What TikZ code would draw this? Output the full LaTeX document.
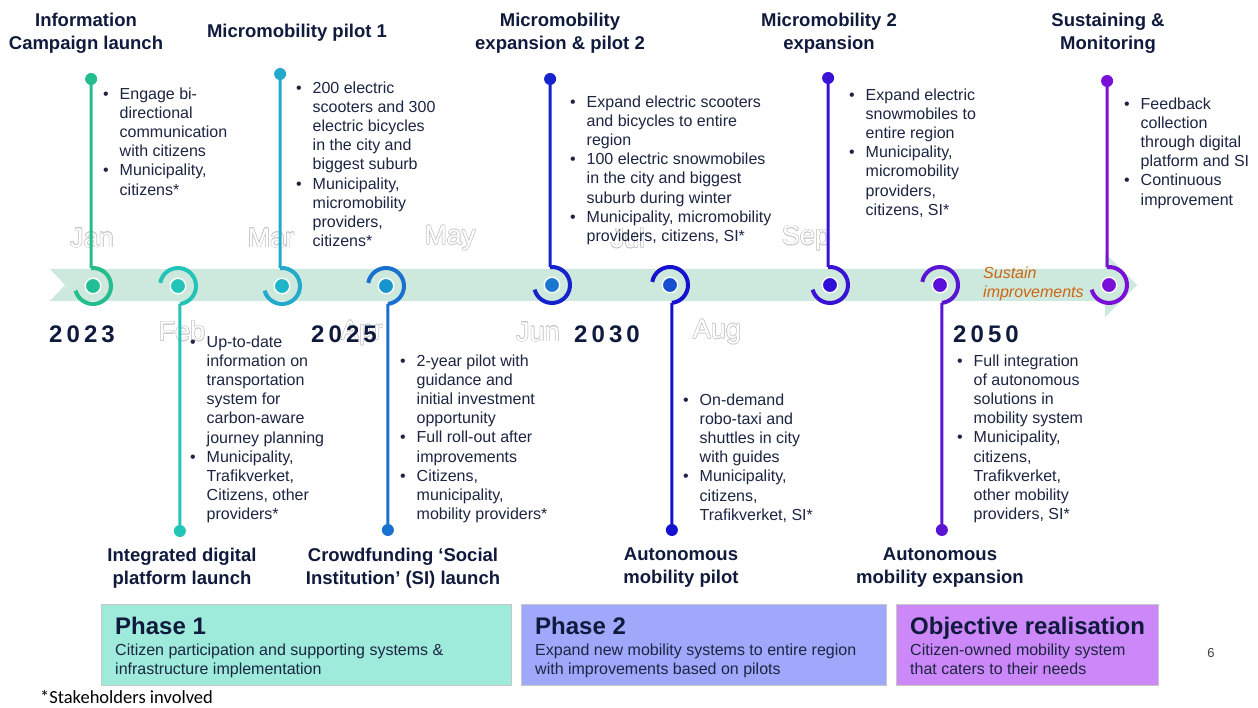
\documentclass[tikz,border=0pt]{standalone}
\usepackage{fontspec}
\setmainfont{Liberation Sans}
\newfontfamily\calib{Carlito}
\newfontfamily\yearfont[LetterSpace=17]{Liberation Sans}
\usetikzlibrary{calc}
\definecolor{navy}{HTML}{101A3C}
\definecolor{txt}{HTML}{1C2542}
\definecolor{bandc}{HTML}{CDE8DD}
\definecolor{mgray}{HTML}{C8C8C8}
\definecolor{sust}{HTML}{D0650F}
\definecolor{a1}{HTML}{25BC8E}\definecolor{b1}{HTML}{22BF94}
\definecolor{a2}{HTML}{22C4B8}\definecolor{b2}{HTML}{22C4B8}
\definecolor{a3}{HTML}{22A9CB}\definecolor{b3}{HTML}{1DB5C8}
\definecolor{a4}{HTML}{1A70CE}\definecolor{b4}{HTML}{1895CF}
\definecolor{a5}{HTML}{1423CC}\definecolor{b5}{HTML}{1A78D2}
\definecolor{a6}{HTML}{1412D0}\definecolor{b6}{HTML}{1450D0}
\definecolor{a7}{HTML}{3A12D5}\definecolor{b7}{HTML}{3010D8}
\definecolor{a8}{HTML}{5A14D4}\definecolor{b8}{HTML}{5A10D8}
\definecolor{a9}{HTML}{7A10D8}\definecolor{b9}{HTML}{7A10D8}
\definecolor{ph1}{HTML}{9EEBDB}
\definecolor{ph2}{HTML}{A0A8FB}
\definecolor{ph3}{HTML}{CC88F8}
\newcommand\bl{\makebox[16.5pt][l]{\textbullet}}
\newcommand\ind{\hspace*{16.5pt}}
\tikzset{
  title/.style={font=\fontsize{18.5}{23}\selectfont\bfseries, text=navy, align=center, inner sep=0pt, anchor=north},
  body/.style={font=\fontsize{16}{19.2}\selectfont, text=txt, align=left, inner sep=0pt, anchor=north west},
  cdot/.style={circle, fill=#1, draw=white, line width=1.4pt, minimum size=15.5pt, inner sep=0pt},
  edot/.style={circle, fill=#1, minimum size=12pt, inner sep=0pt},
  arcline/.style={line width=4pt, draw=#1},
  pinline/.style={line width=3pt, draw=#1},
  month/.style={font=\fontsize{27}{27}\selectfont, inner sep=0pt},
  yearlbl/.style={font=\yearfont\bfseries\fontsize{24}{24}\selectfont, text=navy, inner sep=0pt, anchor=west},
  phasebox/.style={draw=black!22, line width=0.8pt, inner sep=0pt, anchor=north west},
  phtitle/.style={font=\fontsize{24}{24}\selectfont\bfseries, text=navy, inner sep=0pt, anchor=north west},
  phsub/.style={font=\fontsize{16}{19.2}\selectfont, text=txt, align=left, inner sep=0pt, anchor=north west}
}
\newcommand\monthlbl[4]{%
  \foreach \a in {0,30,...,330}{\node[month,text=mgray] at ([shift={(\a:0.55pt)}]#2,#3) {#4};}
  \node[month,text=white] (#1) at (#2,#3) {#4};}
\newcommand\toppin[6]{%
  \coordinate (#1c) at (#2,#3);
  \coordinate (#1s) at ($(#1c)+(96:18pt)$);
  \pgfmathsetmacro\px{#2-1.88}
  \node[edot=#5] (#1e) at (\px,#4) {};
  \draw[pinline=#5] (#1e.center) -- (#1s);
  \draw[arcline=#5] (#1s) arc[start angle=96,end angle=-165,radius=18pt];
  \node[cdot=#6] (#1d) at (#1c) {};}
\newcommand\botpin[6]{%
  \coordinate (#1c) at (#2,#3);
  \coordinate (#1s) at ($(#1c)+(-84:18pt)$);
  \coordinate (#1a) at ($(#1c)+(170:18pt)$);
  \pgfmathsetmacro\px{#2+1.88}
  \node[edot=#5] (#1e) at (\px,#4) {};
  \draw[arcline=#5] (#1a) arc[start angle=170,end angle=-84,radius=18pt];
  \draw[pinline=#5] (#1s) -- (#1e.center);
  \node[cdot=#6] (#1d) at (#1c) {};}
\begin{document}
\begin{tikzpicture}[x=1pt,y=1pt]
\useasboundingbox (0,0) rectangle (1258,-708);
\fill[white] (0,0) rectangle (1258,-708);
% band
\fill[bandc] (50,-269) -- (1105,-269) -- (1105,-253) -- (1137,-285) -- (1105,-317) -- (1105,-301) -- (50,-301) -- (65,-285) -- cycle;
% months
\monthlbl{mjan}{92}{-238}{Jan}
\monthlbl{mfeb}{182}{-331}{Feb}
\monthlbl{mmar}{271}{-238}{Mar}
\monthlbl{mapr}{362}{-333}{Apr}
\monthlbl{mmay}{450}{-238}{May}
\monthlbl{mjun}{538}{-332}{Jun}
\monthlbl{mjul}{628}{-238}{Jul}
\monthlbl{maug}{717}{-332}{Aug}
\monthlbl{msep}{806}{-238}{Sep}
% pins
\toppin{p1}{93}{-286}{-79}{a1}{b1}
\botpin{p2}{178}{-286}{-531}{a2}{b2}
\toppin{p3}{282}{-286}{-74}{a3}{b3}
\botpin{p4}{386}{-286}{-530}{a4}{b4}
\toppin{p5}{552}{-285}{-79}{a5}{b5}
\botpin{p6}{670}{-285}{-530}{a6}{b6}
\toppin{p7}{830}{-285}{-78}{a7}{b7}
\botpin{p8}{940}{-285}{-530}{a8}{b8}
\toppin{p9}{1109}{-285}{-81}{a9}{b9}
% years
\node[yearlbl] (y1) at (49,-334) {2023};
\node[yearlbl] (y2) at (311,-334) {2025};
\node[yearlbl] (y3) at (574,-334) {2030};
\node[yearlbl] (y4) at (953,-334) {2050};
% sustain
\node[anchor=north west, inner sep=0pt, align=left, font=\fontsize{16}{19}\selectfont\itshape, text=sust] (sus) at (983,-267) {Sustain\\improvements};
% titles
\node[title] (t1) at (86,-12.5) {Information\\Campaign launch};
\node[title] (t3) at (297,-23.5) {Micromobility pilot 1};
\node[title] (t5) at (560,-12.5) {Micromobility\\expansion \& pilot 2};
\node[title] (t7) at (829,-12.5) {Micromobility 2\\expansion};
\node[title] (t9) at (1108,-12.5) {Sustaining \&\\Monitoring};
\node[title] (t2) at (182,-547.5) {Integrated digital\\platform launch};
\node[title] (t4) at (403,-547.5) {Crowdfunding ‘Social\\Institution’ (SI) launch};
\node[title] (t6) at (681,-547.5) {Autonomous\\mobility pilot};
\node[title] (t8) at (940,-547.5) {Autonomous\\mobility expansion};
% bodies
\node[body] (x1) at (103,-87.4) {\bl Engage bi-\\\ind directional\\\ind communication\\\ind with citizens\\\bl Municipality,\\\ind citizens*};
\node[body] (x2) at (190,-335.4) {\bl Up-to-date\\\ind information on\\\ind transportation\\\ind system for\\\ind carbon-aware\\\ind journey planning\\\bl Municipality,\\\ind Trafikverket,\\\ind Citizens, other\\\ind providers*};
\node[body] (x3) at (296,-81.4) {\bl 200 electric\\\ind scooters and 300\\\ind electric bicycles\\\ind in the city and\\\ind biggest suburb\\\bl Municipality,\\\ind micromobility\\\ind providers,\\\ind citizens*};
\node[body] (x4) at (400,-354.4) {\bl 2-year pilot with\\\ind guidance and\\\ind initial investment\\\ind opportunity\\\bl Full roll-out after\\\ind improvements\\\bl Citizens,\\\ind municipality,\\\ind mobility providers*};
\node[body] (x5) at (570,-95.4) {\bl Expand electric scooters\\\ind and bicycles to entire\\\ind region\\\bl 100 electric snowmobiles\\\ind in the city and biggest\\\ind suburb during winter\\\bl Municipality, micromobility\\\ind providers, citizens, SI*};
\node[body] (x6) at (683,-393.4) {\bl On-demand\\\ind robo-taxi and\\\ind shuttles in city\\\ind with guides\\\bl Municipality,\\\ind citizens,\\\ind Trafikverket, SI*};
\node[body] (x7) at (849,-88.4) {\bl Expand electric\\\ind snowmobiles to\\\ind entire region\\\bl Municipality,\\\ind micromobility\\\ind providers,\\\ind citizens, SI*};
\node[body] (x8) at (957,-354.4) {\bl Full integration\\\ind of autonomous\\\ind solutions in\\\ind mobility system\\\bl Municipality,\\\ind citizens,\\\ind Trafikverket,\\\ind other mobility\\\ind providers, SI*};
\node[body] (x9) at (1124,-97.4) {\bl Feedback\\\ind collection\\\ind through digital\\\ind platform and SI\\\bl Continuous\\\ind improvement};
% phases
\node[phasebox, fill=ph1, minimum width=410pt, minimum height=81pt] (ph1) at (101,-604) {};
\node[phasebox, fill=ph2, minimum width=365pt, minimum height=81pt] (ph2) at (521,-604) {};
\node[phasebox, fill=ph3, minimum width=262pt, minimum height=81pt] (ph3) at (896,-604) {};
\node[phtitle] (h1) at (115,-617) {Phase 1};
\node[phtitle] (h2) at (535,-617) {Phase 2};
\node[phtitle] (h3) at (910,-617) {Objective realisation};
\node[phsub] (s1) at (115,-643.4) {Citizen participation and supporting systems \&\\infrastructure implementation};
\node[phsub] (s2) at (535,-643.4) {Expand new mobility systems to entire region\\with improvements based on pilots};
\node[phsub] (s3) at (910,-643.4) {Citizen-owned mobility system\\that caters to their needs};
% footer
\node[font=\fontsize{13}{13}\selectfont, text=black!75, inner sep=0pt] (pg) at (1211,-653) {6};
\node[anchor=west, inner sep=0pt, font=\calib\fontsize{18.5}{18.5}\selectfont] (st) at (40,-697) {*Stakeholders involved};
\end{tikzpicture}
\end{document}
